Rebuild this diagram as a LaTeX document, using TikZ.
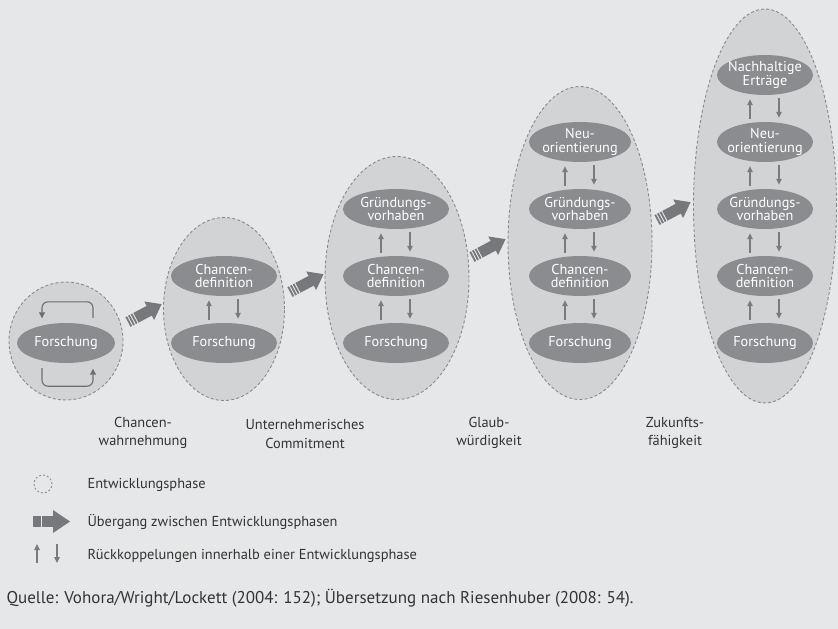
\documentclass[tikz,border=0pt]{standalone}
\usepackage{fontspec}
\setmainfont{PT Sans}
\usetikzlibrary{arrows.meta,shapes.geometric}
\definecolor{bg}{HTML}{E6E7E8}
\definecolor{phasefill}{HTML}{D2D3D5}
\definecolor{phaseline}{HTML}{898A8D}
\definecolor{nodefill}{HTML}{8B8C8F}
\definecolor{fbgray}{HTML}{7A7B7E}
\definecolor{loopgray}{HTML}{6E6F72}
\definecolor{transgray}{HTML}{77787B}
\definecolor{txt}{HTML}{333333}
\newcommand\fbpair[2]{%
  \draw[fb] ([xshift=-15pt,yshift=3pt]#1.north) -- ([xshift=-15pt,yshift=-4pt]#2.south);
  \draw[fb] ([xshift=14pt,yshift=-3pt]#2.south) -- ([xshift=14pt,yshift=4pt]#1.north);}
\begin{document}
\begin{tikzpicture}[x=1pt,y=-1pt,
  phase/.style={ellipse,draw=phaseline,fill=phasefill,line width=0.9pt,dash pattern=on 3pt off 2.2pt,inner sep=0pt},
  inode/.style={ellipse,fill=nodefill,minimum height=40pt,inner sep=-8pt,text=white,align=center,font=\fontsize{14.3}{13.5}\selectfont},
  fb/.style={draw=fbgray,line width=1.3pt,-{Triangle[length=6pt,width=5.5pt]}},
  lp/.style={draw=loopgray,line width=1.1pt,rounded corners=6pt,-{Triangle[length=6pt,width=6pt]}},
  lab/.style={text=txt,align=center,font=\fontsize{14.4}{18.5}\selectfont},
  leg/.style={text=txt,anchor=west,font=\fontsize{14.4}{16}\selectfont},
  trans/.pic={
    \fill[transgray] (0,-5.5) rectangle (1.8,5.5);
    \fill[transgray] (3,-5.5) rectangle (4.8,5.5);
    \fill[transgray] (6,-5.5) rectangle (7.8,5.5);
    \fill[transgray] (9,-5.5) rectangle (25,5.5);
    \fill[transgray] (24,-10.5) -- (38,0) -- (24,10.5) -- cycle;
  }]
\fill[bg] (0,0) rectangle (838,629);
\useasboundingbox (0,0) rectangle (838,629);

% phases
\node[phase,minimum width=114pt,minimum height=118pt] (p1) at (66,341) {};
\node[phase,minimum width=121pt,minimum height=183pt] (p2) at (224,309) {};
\node[phase,minimum width=144pt,minimum height=243pt] (p3) at (397,278) {};
\node[phase,minimum width=144pt,minimum height=313pt] (p4) at (580,243) {};
\node[phase,minimum width=143pt,minimum height=394pt] (p5) at (765,206) {};

% phase 1
\node[inode,minimum width=98pt] (f1) at (66,343) {Forschung};
\draw[lp] ([xshift=27pt,yshift=5pt]f1.north) -- ++(0,-16) -- ++(-51,0) -- ++(0,16.5);
\draw[lp] ([xshift=-24pt,yshift=-5pt]f1.south) -- ++(0,18) -- ++(51,0) -- ++(0,-17.5);

% phase 2
\node[inode,minimum width=106pt] (f2) at (224,343) {Forschung};
\node[inode,minimum width=106pt] (c2) at (224,276) {Chancen-\\definition};
\fbpair{f2}{c2}

% phase 3
\node[inode,minimum width=106pt] (f3) at (396,343) {Forschung};
\node[inode,minimum width=106pt] (c3) at (396,276) {Chancen-\\definition};
\node[inode,minimum width=106pt] (g3) at (396,209) {Gründungs-\\vorhaben};
\fbpair{f3}{c3}
\fbpair{c3}{g3}

% phase 4
\node[inode,minimum width=102pt] (f4) at (580,343) {Forschung};
\node[inode,minimum width=102pt] (c4) at (580,276) {Chancen-\\definition};
\node[inode,minimum width=102pt] (g4) at (580,209) {Gründungs-\\vorhaben};
\node[inode,minimum width=102pt] (n4) at (580,142) {Neu-\\orientierung};
\fbpair{f4}{c4}
\fbpair{c4}{g4}
\fbpair{g4}{n4}

% phase 5
\node[inode,minimum width=96pt] (f5) at (765,343) {Forschung};
\node[inode,minimum width=96pt] (c5) at (765,276) {Chancen-\\definition};
\node[inode,minimum width=96pt] (g5) at (765,209) {Gründungs-\\vorhaben};
\node[inode,minimum width=96pt] (n5) at (765,142) {Neu-\\orientierung};
\node[inode,minimum width=96pt] (e5) at (765,75) {Nachhaltige\\Erträge};
\fbpair{f5}{c5}
\fbpair{c5}{g5}
\fbpair{g5}{n5}
\fbpair{n5}{e5}

% transitions
\pic[rotate=28] at (128,322) {trans};
\pic[rotate=28] at (290,292) {trans};
\pic[rotate=28] at (472,257) {trans};
\pic[rotate=28] at (657,220) {trans};

% phase labels
\node[lab] (l1) at (143,433) {Chancen-\\wahrnehmung};
\node[lab] (l2) at (305,434) {Unternehmerisches\\Commitment};
\node[lab] (l3) at (489,433) {Glaub-\\würdigkeit};
\node[lab] (l4) at (675,433) {Zukunfts-\\fähigkeit};

% legend
\node[circle,draw=phaseline,line width=0.8pt,dash pattern=on 2pt off 2pt,minimum size=18pt,inner sep=0pt] (lc) at (43,484) {};
\node[leg] (t1) at (84,485) {Entwicklungsphase};
\fill[transgray] (33,516) rectangle (41,527);
\fill[transgray] (42.3,516) rectangle (54,527);
\fill[transgray] (53,510) -- (70,521.5) -- (53,533) -- cycle;
\node[leg] (t2) at (84,522) {Übergang zwischen Entwicklungsphasen};
\coordinate (ua) at (37,563);
\coordinate (ub) at (37,544);
\coordinate (da) at (57,544);
\coordinate (db) at (57,563);
\draw[fb] (ua) -- (ub);
\draw[fb] (da) -- (db);
\node[leg] (t3) at (84,556) {Rückkoppelungen innerhalb einer Entwicklungsphase};
\node[text=txt,anchor=west,font=\fontsize{17}{19}\selectfont] (q) at (3,598) {Quelle: Vohora/Wright/Lockett (2004: 152); Übersetzung nach Riesenhuber (2008: 54).};
\end{tikzpicture}
\end{document}
